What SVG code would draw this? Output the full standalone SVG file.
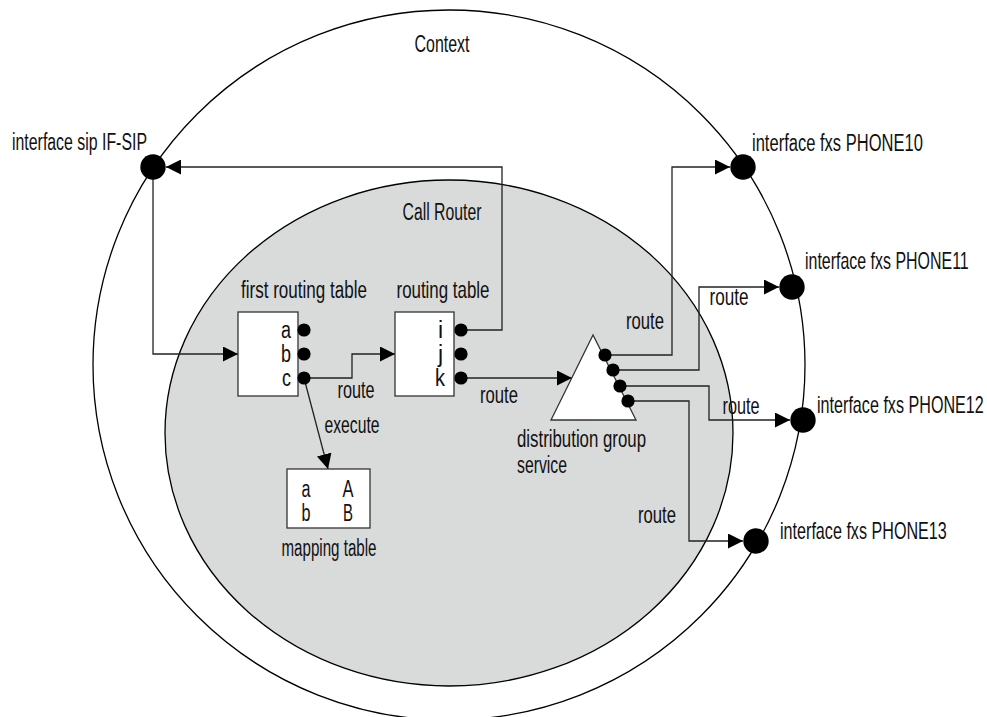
<svg xmlns="http://www.w3.org/2000/svg" width="987" height="717" viewBox="0 0 987 717">
<style>
text{font-family:"Liberation Sans",Arial,sans-serif;font-size:23px;fill:#111;}
.m{text-anchor:middle;}
.e{text-anchor:end;}
.ring{fill:none;stroke:#000;stroke-width:1.3;}
.area{fill:#d9dada;stroke:#000;stroke-width:1.3;}
.box{fill:#fff;stroke:#333;stroke-width:1.3;}
.dot{fill:#000;}
.con{fill:none;stroke:#222;stroke-width:1.3;}
.arr{marker-end:url(#arr);}
</style>
<defs>
<marker id="arr" markerUnits="userSpaceOnUse" markerWidth="15" markerHeight="15" refX="15" refY="7.5" orient="auto"><path d="M0,0 L15,7.5 L0,15 z" fill="#000"/></marker>
</defs>
<rect width="987" height="717" fill="#fff"/>
<g id="context">
<ellipse class="ring" cx="449" cy="365" rx="356" ry="355"/>
<text class="m" x="442" y="52" textLength="55" lengthAdjust="spacingAndGlyphs">Context</text>
</g>
<g id="call-router">
<ellipse class="area" cx="449" cy="433" rx="284" ry="253"/>
<text class="m" x="442" y="220" textLength="79" lengthAdjust="spacingAndGlyphs">Call Router</text>
</g>
<g id="connectors">
<path class="con arr" d="M461,330 H502 V167 H166"/>
<path class="con arr" d="M153,167 V354 H238"/>
<path class="con arr" d="M304,378 H352 V354 H395"/>
<path class="con arr" d="M304,378 L328,469"/>
<path class="con arr" d="M461,378 H572"/>
<path class="con arr" d="M605,355 H672 V167 H730"/>
<path class="con arr" d="M613,370 H699 V287 H779"/>
<path class="con arr" d="M620,386 H709 V420 H790"/>
<path class="con arr" d="M628,401 H689 V541 H743"/>
<text class="m" x="356" y="398" textLength="37" lengthAdjust="spacingAndGlyphs">route</text>
<text class="m" x="499" y="403" textLength="38" lengthAdjust="spacingAndGlyphs">route</text>
<text class="m" x="352" y="433" textLength="55" lengthAdjust="spacingAndGlyphs">execute</text>
<text class="m" x="645" y="329" textLength="38" lengthAdjust="spacingAndGlyphs">route</text>
<text class="m" x="729" y="305" textLength="39" lengthAdjust="spacingAndGlyphs">route</text>
<text class="m" x="741" y="414" textLength="37" lengthAdjust="spacingAndGlyphs">route</text>
<text class="m" x="657" y="523" textLength="38" lengthAdjust="spacingAndGlyphs">route</text>
</g>
<g id="if-sip">
<circle class="dot" cx="153" cy="167" r="12.7"/>
<text x="12" y="150" textLength="135" lengthAdjust="spacingAndGlyphs">interface sip IF-SIP</text>
</g>
<g id="phone10">
<circle class="dot" cx="743" cy="167" r="12.7"/>
<text transform="translate(752,151) scale(0.719,1)">interface fxs PHONE10</text>
</g>
<g id="phone11">
<circle class="dot" cx="792" cy="287" r="12.7"/>
<text transform="translate(805,269) scale(0.694,1)">interface fxs PHONE11</text>
</g>
<g id="phone12">
<circle class="dot" cx="803" cy="420" r="12.7"/>
<text transform="translate(817,413) scale(0.702,1)">interface fxs PHONE12</text>
</g>
<g id="phone13">
<circle class="dot" cx="756" cy="541" r="12.7"/>
<text transform="translate(780,539) scale(0.702,1)">interface fxs PHONE13</text>
</g>
<g id="first-routing-table">
<rect class="box" x="238" y="312" width="60" height="84"/>
<text class="m" transform="translate(304,298) scale(0.741,1)">first routing table</text>
<text class="e" x="291" y="338" textLength="10" lengthAdjust="spacingAndGlyphs">a</text>
<text class="e" x="291" y="362" textLength="10" lengthAdjust="spacingAndGlyphs">b</text>
<text class="e" x="291" y="386" textLength="9" lengthAdjust="spacingAndGlyphs">c</text>
<circle class="dot" cx="304" cy="330" r="6.6"/>
<circle class="dot" cx="304" cy="354" r="6.6"/>
<circle class="dot" cx="304" cy="378" r="6.6"/>
</g>
<g id="routing-table">
<rect class="box" x="395" y="312" width="59" height="84"/>
<text class="m" transform="translate(443,298) scale(0.735,1)">routing table</text>
<text class="e" x="443" y="338">i</text>
<text class="e" x="443" y="362">j</text>
<text class="e" x="445" y="386" textLength="10" lengthAdjust="spacingAndGlyphs">k</text>
<circle class="dot" cx="461" cy="330" r="6.6"/>
<circle class="dot" cx="461" cy="354" r="6.6"/>
<circle class="dot" cx="461" cy="378" r="6.6"/>
</g>
<g id="mapping-table">
<rect class="box" x="287" y="469" width="83" height="59"/>
<text class="m" x="306" y="497" textLength="9" lengthAdjust="spacingAndGlyphs">a</text>
<text class="m" x="306" y="521" textLength="9" lengthAdjust="spacingAndGlyphs">b</text>
<text class="m" x="348" y="497" textLength="11" lengthAdjust="spacingAndGlyphs">A</text>
<text class="m" x="348" y="521" textLength="10" lengthAdjust="spacingAndGlyphs">B</text>
<text class="m" x="329" y="556" textLength="95" lengthAdjust="spacingAndGlyphs">mapping table</text>
</g>
<g id="distribution-group">
<polygon class="box" points="593,335 551,420 636,420"/>
<circle class="dot" cx="605" cy="355" r="6.6"/>
<circle class="dot" cx="613" cy="370" r="6.6"/>
<circle class="dot" cx="620" cy="386" r="6.6"/>
<circle class="dot" cx="628" cy="401" r="6.6"/>
<text x="517" y="447" textLength="129" lengthAdjust="spacingAndGlyphs">distribution group</text>
<text x="517" y="473" textLength="50" lengthAdjust="spacingAndGlyphs">service</text>
</g>
</svg>
